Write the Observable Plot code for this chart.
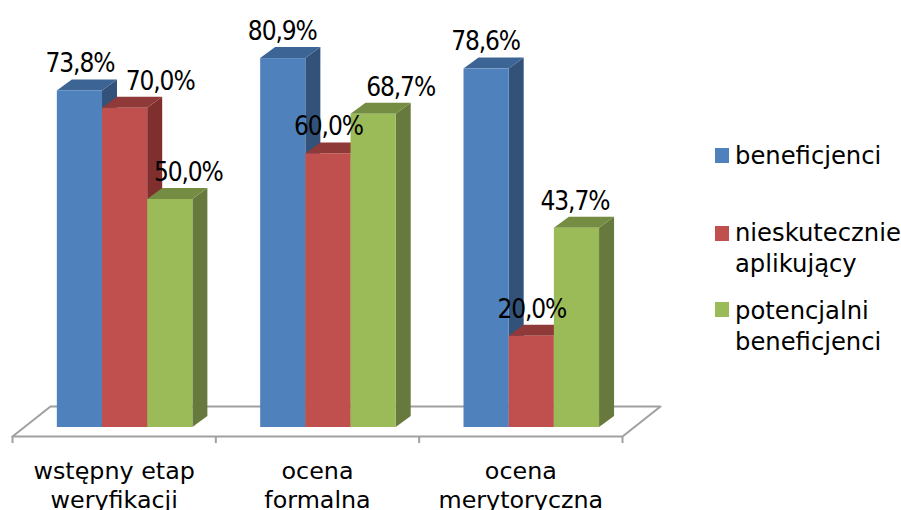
<!DOCTYPE html>
<html lang="pl">
<head>
<meta charset="utf-8">
<script src="https://cdn.jsdelivr.net/npm/d3@7"></script>
<script src="https://cdn.jsdelivr.net/npm/@observablehq/plot@0.6"></script>
<style>
  html, body { margin: 0; padding: 0; background: #fff; overflow: hidden; }
  #chart { position: relative; width: 901px; height: 510px; overflow: hidden; }
  .value-label { letter-spacing: -1.1px; }
  .legend { position: absolute; left: 0; top: 0; font: 24.25px/30px "DejaVu Sans", sans-serif; color: #000; }
  .legend span { position: absolute; }
  .legend i { position: absolute; width: 14px; height: 15px; }
</style>
</head>
<body>
<div id="chart"></div>
<script>
const categories = ["wstępny etap\nweryfikacji", "ocena\nformalna", "ocena\nmerytoryczna"];
const seriesNames = ["beneficjenci", "nieskutecznie\naplikujący", "potencjalni\nbeneficjenci"];
const beneficjenci = [73.8, 80.9, 78.6];
const nieskutecznie = [70.0, 60.0, 20.0];
const potencjalni = [50.0, 68.7, 43.7];
const seriesValues = [beneficjenci, nieskutecznie, potencjalni];

// Face colours per series: front, top, side.
const faces = [
  {front: "#4f81bd", top: "#3c6494", side: "#33527a"},
  {front: "#c0504d", top: "#8f3a38", side: "#7f2f2d"},
  {front: "#9bbb59", top: "#758d42", side: "#68793d"}
];

// Layout of the pseudo-3D prisms, in data units.
const barWidth = 0.2222;
const groupStart = 0.2205;
const depthX = 0.0738, depthY = 2.41;
const floorDepthX = 0.187, floorBack = 4.6, floorFront = -1.97;

// Horizontal nudge (px) of the value labels, one row per category.
const labelShift = [
  [0, 35, 18],
  [-1, 0, 27],
  [-1, 0, -2]
];

const fmt = v => v.toFixed(1).replace(".", ",") + "%";

const bars = seriesValues.flatMap((values, s) => values.map((value, c) => ({
  s, c, value,
  xl: c + groupStart + s * barWidth,
  xr: c + groupStart + (s + 1) * barWidth
})));

// The floor is outlined in the same coordinates as the bars.
const n = categories.length;
const floor = [
  {x: 0, y: floorFront},
  {x: n, y: floorFront},
  {x: n + floorDepthX, y: floorBack},
  {x: floorDepthX, y: floorBack},
  {x: 0, y: floorFront}
];

const prism = b => {
  const side = [
    {x: b.xr, y1: 0, y2: b.value},
    {x: b.xr + depthX, y1: depthY, y2: b.value + depthY}
  ];
  const top = [
    {x: b.xl, y1: b.value, y2: b.value},
    {x: b.xl + depthX, y1: b.value, y2: b.value + depthY},
    {x: b.xr, y1: b.value, y2: b.value + depthY},
    {x: b.xr + depthX, y1: b.value + depthY, y2: b.value + depthY}
  ];
  const f = faces[b.s];
  return [
    Plot.area(side, {x1: "x", y1: "y1", y2: "y2", fill: f.side}),
    Plot.area(top, {x1: "x", y1: "y1", y2: "y2", fill: f.top}),
    Plot.rect([b], {x1: "xl", x2: "xr", y1: 0, y2: "value", fill: f.front})
  ];
};

const plot = Plot.plot({
  width: 901,
  height: 510,
  margin: 0,
  x: {type: "linear", domain: [0, n], range: [12, 622], axis: null},
  y: {type: "linear", domain: [0, 100], range: [427, -29], axis: null},
  marks: [
    Plot.line(floor, {x: "x", y: "y", stroke: "#a0a0a0", strokeWidth: 2}),
    Plot.ruleX(d3.range(n + 1), {y1: floorFront, y2: floorFront - 1.55, stroke: "#a0a0a0", strokeWidth: 2}),
    ...bars.flatMap(prism),
    ...bars.map(b => Plot.text([b], {
      x: d => (d.xl + d.xr) / 2,
      y: "value",
      text: d => fmt(d.value),
      dx: labelShift[b.c][b.s],
      dy: -27,
      className: "value-label",
      fill: "#000",
      fontSize: 26,
      fontFamily: '"DejaVu Sans Condensed", "DejaVu Sans", sans-serif'
    })),
    Plot.text(categories, {
      x: (d, i) => i + 0.5,
      y: floorFront,
      text: d => d,
      dy: 21,
      lineAnchor: "top",
      lineHeight: 1.25,
      fill: "#000",
      fontSize: 23.8,
      fontFamily: '"DejaVu Sans", sans-serif'
    })
  ]
});

const chart = document.getElementById("chart");
chart.appendChild(plot);

// Legend at the right of the bars.
const legend = document.createElement("div");
legend.className = "legend";
const legendRows = [
  {swatchTop: 148, textTop: 141},
  {swatchTop: 226, textTop: 218},
  {swatchTop: 302, textTop: 296}
];
seriesNames.forEach((name, s) => {
  const sw = document.createElement("i");
  sw.style.cssText = `left:715px;top:${legendRows[s].swatchTop}px;background:${faces[s].front}`;
  legend.appendChild(sw);
  name.split("\n").forEach((line, k) => {
    const t = document.createElement("span");
    t.textContent = line;
    t.style.cssText = `left:735px;top:${legendRows[s].textTop + k * 31}px`;
    legend.appendChild(t);
  });
});
chart.appendChild(legend);
</script>
</body>
</html>
